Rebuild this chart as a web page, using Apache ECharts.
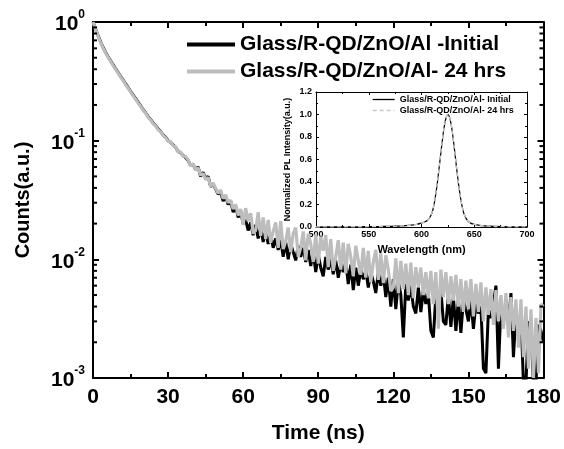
<!DOCTYPE html>
<html>
<head>
<meta charset="utf-8">
<script src="https://cdn.jsdelivr.net/npm/echarts@6/dist/echarts.min.js"></script>
<style>
  html, body { margin: 0; padding: 0; background: #fff; }
  #chart { width: 564px; height: 449px; }
</style>
</head>
<body>
<div id="chart"></div>
<script>
// Time-resolved PL decay, one sample per ns from 0 to 180 ns
const decayStepNs = 1;

const decayInitial = [
  1.00, 0.875, 0.772, 0.683, 0.612, 0.557, 0.511, 0.474, 0.437, 0.405,
  0.376, 0.349, 0.326, 0.302, 0.281, 0.261, 0.243, 0.227, 0.211, 0.197,
  0.183, 0.172, 0.16, 0.151, 0.141, 0.134, 0.126, 0.12, 0.112, 0.107,
  0.10, 0.097, 0.092, 0.088, 0.081, 0.079, 0.075, 0.072, 0.068, 0.062,
  0.063, 0.057, 0.06, 0.05, 0.054, 0.048, 0.05, 0.041, 0.043, 0.039,
  0.0355, 0.037, 0.031, 0.034, 0.029, 0.031, 0.025, 0.028, 0.0225, 0.0255,
  0.02, 0.0215, 0.0175, 0.0205, 0.016, 0.0195, 0.015, 0.0185, 0.014, 0.0175,
  0.0135, 0.016, 0.0125, 0.015, 0.012, 0.0145, 0.0105, 0.014, 0.01, 0.0135,
  0.0115, 0.0098, 0.013, 0.0105, 0.0125, 0.0095, 0.012, 0.0088, 0.0115, 0.0078,
  0.011, 0.0085, 0.0072, 0.0105, 0.0082, 0.01, 0.0075, 0.0098, 0.007, 0.0092,
  0.0078, 0.0095, 0.0062, 0.009, 0.0055, 0.0085, 0.006, 0.0082, 0.0068, 0.008,
  0.0058, 0.0078, 0.0065, 0.0052, 0.0078, 0.006, 0.0075, 0.0048, 0.007, 0.004,
  0.0068, 0.0038, 0.0066, 0.005, 0.0022, 0.0062, 0.0045, 0.006, 0.004, 0.0035,
  0.0058, 0.0036, 0.0055, 0.0042, 0.0052, 0.0025, 0.0022, 0.005, 0.004, 0.0055,
  0.003, 0.0028, 0.005, 0.0027, 0.0048, 0.0025, 0.0046, 0.0024, 0.0045, 0.0038,
  0.003, 0.0045, 0.0026, 0.0042, 0.0035, 0.004, 0.0012, 0.0011, 0.0038, 0.0032,
  0.0042, 0.006, 0.0012, 0.004, 0.003, 0.0036, 0.0028, 0.0052, 0.0015, 0.0035,
  0.0028, 0.0034, 0.0009, 0.0009, 0.003, 0.0026, 0.0009, 0.0009, 0.0028, 0.0025,
  0.002
];

const decay24h = [
  1.00, 0.87, 0.765, 0.675, 0.605, 0.55, 0.505, 0.468, 0.432, 0.40,
  0.372, 0.345, 0.322, 0.298, 0.278, 0.258, 0.24, 0.224, 0.208, 0.195,
  0.181, 0.171, 0.158, 0.15, 0.139, 0.133, 0.124, 0.119, 0.111, 0.106,
  0.0985, 0.0985, 0.0905, 0.089, 0.08, 0.0805, 0.074, 0.0735, 0.069, 0.061,
  0.064, 0.0565, 0.059, 0.051, 0.053, 0.047, 0.049, 0.041, 0.044, 0.0395,
  0.036, 0.0385, 0.0325, 0.035, 0.03, 0.0315, 0.0265, 0.029, 0.0235, 0.0265,
  0.0195, 0.027, 0.021, 0.0245, 0.0165, 0.0175, 0.025, 0.0158, 0.0225, 0.0148,
  0.0215, 0.0138, 0.0172, 0.0205, 0.0125, 0.021, 0.0122, 0.0142, 0.0185, 0.0115,
  0.0165, 0.0185, 0.0105, 0.0125, 0.0172, 0.0098, 0.0165, 0.0135, 0.0095, 0.0162,
  0.0092, 0.0155, 0.0118, 0.016, 0.0086, 0.0148, 0.008, 0.0105, 0.0145, 0.0082,
  0.0138, 0.0076, 0.0135, 0.0105, 0.0072, 0.013, 0.0098, 0.0074, 0.0125, 0.007,
  0.0118, 0.0064, 0.0095, 0.012, 0.0067, 0.0112, 0.0063, 0.0108, 0.0082, 0.0054,
  0.0058, 0.0102, 0.0052, 0.0097, 0.0056, 0.0092, 0.005, 0.0094, 0.0047, 0.0086,
  0.0058, 0.0085, 0.005, 0.0078, 0.0047, 0.008, 0.0042, 0.0078, 0.0026, 0.0082,
  0.0048, 0.0078, 0.0042, 0.0072, 0.0045, 0.0074, 0.004, 0.0068, 0.0036, 0.0066,
  0.0038, 0.0068, 0.0033, 0.0062, 0.0036, 0.0064, 0.003, 0.0058, 0.0034, 0.0056,
  0.0028, 0.0055, 0.003, 0.005, 0.0026, 0.0052, 0.0022, 0.0048, 0.0025, 0.0046,
  0.0018, 0.0046, 0.0015, 0.004, 0.0012, 0.0038, 0.001, 0.0032, 0.0011, 0.0042,
  0.004
];

// Normalized PL spectra (inset)
const plWavelength = [500, 510, 520, 530, 540, 550, 560, 570, 575, 580, 585, 590, 595, 600,
  603, 606, 609, 611, 613, 615, 617, 619, 621, 623, 625, 627, 629, 631, 633, 635, 637, 639,
  641, 644, 647, 650, 655, 660, 665, 670, 680, 690, 700];
const plInitial = [0.0, 0.001, 0.001, 0.002, 0.002, 0.003, 0.004, 0.006, 0.007, 0.009, 0.012, 0.016, 0.022, 0.035,
  0.045, 0.062, 0.105, 0.16, 0.26, 0.39, 0.55, 0.71, 0.86, 0.96, 1.0, 0.96, 0.86, 0.71,
  0.545, 0.39, 0.26, 0.162, 0.10, 0.052, 0.032, 0.024, 0.015, 0.010, 0.007, 0.005, 0.003, 0.002, 0.001];
const pl24h = [0.0, 0.001, 0.001, 0.002, 0.002, 0.003, 0.004, 0.006, 0.007, 0.009, 0.012, 0.016, 0.022, 0.035,
  0.046, 0.063, 0.106, 0.16, 0.26, 0.39, 0.55, 0.71, 0.86, 0.96, 1.0, 0.96, 0.86, 0.71,
  0.545, 0.39, 0.26, 0.16, 0.10, 0.052, 0.032, 0.024, 0.015, 0.010, 0.007, 0.005, 0.003, 0.002, 0.001];

// Axis ticks
const timeTicks = [0, 30, 60, 90, 120, 150, 180];
const countDecades = [-3, -2, -1, 0];
const wavelengthTicks = [500, 550, 600, 650, 700];
const intensityTicks = [0.0, 0.2, 0.4, 0.6, 0.8, 1.0, 1.2];

const seriesNames = {
  initial: 'Glass/R-QD/ZnO/Al -Initial',
  aged: 'Glass/R-QD/ZnO/Al- 24 hrs',
  plInitial: 'Glass/R-QD/ZnO/Al- Initial',
  plAged: 'Glass/R-QD/ZnO/Al- 24 hrs '
};

const FONT = '"Liberation Sans", Arial, Helvetica, sans-serif';
const toPairs = arr => arr.map((v, i) => [i * decayStepNs, v]);
const zip = (xs, ys) => xs.map((x, i) => [x, ys[i]]);

// minor log ticks 2..9 within each decade
const minorLogTicks = [];
for (let d = countDecades[0]; d < countDecades[countDecades.length - 1]; d++) {
  for (let k = 2; k <= 9; k++) minorLogTicks.push(k * Math.pow(10, d));
}

const chart = echarts.init(document.getElementById('chart'));

const mainTick = { inside: true, length: 6, lineStyle: { color: '#000', width: 2 } };
const mainLine = { show: true, onZero: false, lineStyle: { color: '#000', width: 2 } };
const insetTick = { inside: true, length: 3, lineStyle: { color: '#000', width: 1 } };
const insetLine = { show: true, onZero: false, lineStyle: { color: '#000', width: 1 } };

const option = {
  animation: false,
  backgroundColor: '#fff',
  grid: [
    { left: 93, top: 22, width: 452, height: 362 },
    { left: 316, top: 92, width: 211, height: 135 }
  ],
  legend: [
    {
      data: [seriesNames.initial, seriesNames.aged],
      orient: 'vertical', left: 185, top: 34, padding: 0,
      itemWidth: 48, itemHeight: 22, itemGap: 6,
      itemStyle: { opacity: 0 },
      lineStyle: { width: 4 },
      textStyle: { fontFamily: FONT, fontSize: 21, fontWeight: 'bold', color: '#000' }
    },
    {
      data: [seriesNames.plInitial, seriesNames.plAged],
      orient: 'vertical', left: 372, top: 95, padding: 0,
      itemWidth: 22, itemHeight: 9, itemGap: 2,
      itemStyle: { opacity: 0 },
      lineStyle: { width: 1.3 },
      textStyle: { fontFamily: FONT, fontSize: 9, fontWeight: 'bold', color: '#000' }
    }
  ],
  xAxis: [
    {
      type: 'value', gridIndex: 0, position: 'bottom',
      min: timeTicks[0], max: timeTicks[timeTicks.length - 1], interval: 30,
      axisLine: mainLine, axisTick: mainTick,
      minorTick: { show: true, splitNumber: 2, length: 4, lineStyle: { color: '#000', width: 2 } },
      splitLine: { show: false },
      axisLabel: { fontFamily: FONT, fontSize: 21, fontWeight: 'bold', color: '#000', margin: 9 },
      name: 'Time (ns)', nameLocation: 'middle', nameGap: 45,
      nameTextStyle: { fontFamily: FONT, fontSize: 21, fontWeight: 'bold', color: '#000' }
    },
    {
      type: 'value', gridIndex: 0, position: 'top',
      min: timeTicks[0], max: timeTicks[timeTicks.length - 1], interval: 30,
      axisLine: mainLine, axisTick: mainTick,
      minorTick: { show: true, splitNumber: 2, length: 4, lineStyle: { color: '#000', width: 2 } },
      splitLine: { show: false }, axisLabel: { show: false }
    },
    {
      type: 'value', gridIndex: 1, position: 'bottom',
      min: wavelengthTicks[0], max: wavelengthTicks[wavelengthTicks.length - 1], interval: 50,
      axisLine: insetLine, axisTick: insetTick,
      minorTick: { show: true, splitNumber: 2, length: 2, lineStyle: { color: '#000', width: 1 } },
      splitLine: { show: false },
      axisLabel: { fontFamily: FONT, fontSize: 9, fontWeight: 'bold', color: '#000', margin: 3 },
      name: 'Wavelength (nm)', nameLocation: 'middle', nameGap: 17,
      nameTextStyle: { fontFamily: FONT, fontSize: 11, fontWeight: 'bold', color: '#000' }
    },
    {
      type: 'value', gridIndex: 1, position: 'top',
      min: wavelengthTicks[0], max: wavelengthTicks[wavelengthTicks.length - 1], interval: 50,
      axisLine: insetLine, axisTick: insetTick,
      minorTick: { show: true, splitNumber: 2, length: 2, lineStyle: { color: '#000', width: 1 } },
      splitLine: { show: false }, axisLabel: { show: false }
    }
  ],
  yAxis: [
    {
      type: 'log', logBase: 10, gridIndex: 0, position: 'left',
      min: Math.pow(10, countDecades[0]), max: Math.pow(10, countDecades[countDecades.length - 1]),
      axisLine: mainLine, axisTick: mainTick, splitLine: { show: false },
      axisLabel: {
        margin: 8,
        formatter: v => '{b|10}{s|' + Math.round(Math.log10(v)) + '}',
        rich: {
          b: { fontFamily: FONT, fontSize: 21, fontWeight: 'bold', color: '#000', verticalAlign: 'bottom', lineHeight: 26 },
          s: { fontFamily: FONT, fontSize: 12, fontWeight: 'bold', color: '#000', verticalAlign: 'top', lineHeight: 14 }
        }
      },
      name: 'Counts(a.u.)', nameLocation: 'middle', nameGap: 60, nameRotate: 90,
      nameTextStyle: { fontFamily: FONT, fontSize: 20, fontWeight: 'bold', color: '#000' }
    },
    {
      type: 'log', logBase: 10, gridIndex: 0, position: 'right',
      min: Math.pow(10, countDecades[0]), max: Math.pow(10, countDecades[countDecades.length - 1]),
      axisLine: mainLine, axisTick: mainTick, splitLine: { show: false }, axisLabel: { show: false }
    },
    {
      type: 'value', gridIndex: 1, position: 'left',
      min: intensityTicks[0], max: intensityTicks[intensityTicks.length - 1], interval: 0.2,
      axisLine: insetLine, axisTick: insetTick, splitLine: { show: false },
      minorTick: { show: true, splitNumber: 2, length: 2, lineStyle: { color: '#000', width: 1 } },
      axisLabel: { fontFamily: FONT, fontSize: 9, fontWeight: 'bold', color: '#000', margin: 4,
        formatter: v => v.toFixed(1) },
      name: 'Normalized PL Intensity(a.u.)', nameLocation: 'middle', nameGap: 24, nameRotate: 90,
      nameTextStyle: { fontFamily: FONT, fontSize: 9, fontWeight: 'bold', color: '#000' }
    },
    {
      type: 'value', gridIndex: 1, position: 'right',
      min: intensityTicks[0], max: intensityTicks[intensityTicks.length - 1], interval: 0.2,
      axisLine: insetLine, axisTick: insetTick, splitLine: { show: false },
      minorTick: { show: true, splitNumber: 2, length: 2, lineStyle: { color: '#000', width: 1 } },
      axisLabel: { show: false }
    }
  ],
  series: [
    {
      name: seriesNames.initial, type: 'line', xAxisIndex: 0, yAxisIndex: 0,
      data: toPairs(decayInitial), symbol: 'none', z: 2,
      lineStyle: { color: '#000', width: 3 }, itemStyle: { color: '#000' }
    },
    {
      name: seriesNames.aged, type: 'line', xAxisIndex: 0, yAxisIndex: 0,
      data: toPairs(decay24h), symbol: 'none', z: 3,
      lineStyle: { color: '#bdbdbd', width: 3.2 }, itemStyle: { color: '#bdbdbd' }
    },
    {
      // minor ticks of the log count axis, on both left and right frame edges
      type: 'custom', xAxisIndex: 0, yAxisIndex: 0, silent: true, clip: false, z: 10,
      data: minorLogTicks.map(v => [timeTicks[0], v]),
      renderItem: (params, api) => {
        const v = api.value(1);
        const l = api.coord([timeTicks[0], v]);
        const r = api.coord([timeTicks[timeTicks.length - 1], v]);
        return {
          type: 'group',
          children: [
            { type: 'line', shape: { x1: l[0], y1: l[1], x2: l[0] + 4, y2: l[1] }, style: { stroke: '#000', lineWidth: 2 } },
            { type: 'line', shape: { x1: r[0], y1: r[1], x2: r[0] - 4, y2: r[1] }, style: { stroke: '#000', lineWidth: 2 } }
          ]
        };
      }
    },
    {
      name: seriesNames.plInitial, type: 'line', xAxisIndex: 2, yAxisIndex: 2,
      data: zip(plWavelength, plInitial), symbol: 'none', smooth: 0.3, z: 4,
      lineStyle: { color: '#000', width: 1.2 }, itemStyle: { color: '#000' }
    },
    {
      name: seriesNames.plAged, type: 'line', xAxisIndex: 2, yAxisIndex: 2,
      data: zip(plWavelength, pl24h), symbol: 'none', smooth: 0.3, z: 5,
      lineStyle: { color: '#c8c8c8', width: 1.4, type: [4, 3] }, itemStyle: { color: '#c8c8c8' }
    }
  ]
};

chart.setOption(option);
</script>
</body>
</html>
